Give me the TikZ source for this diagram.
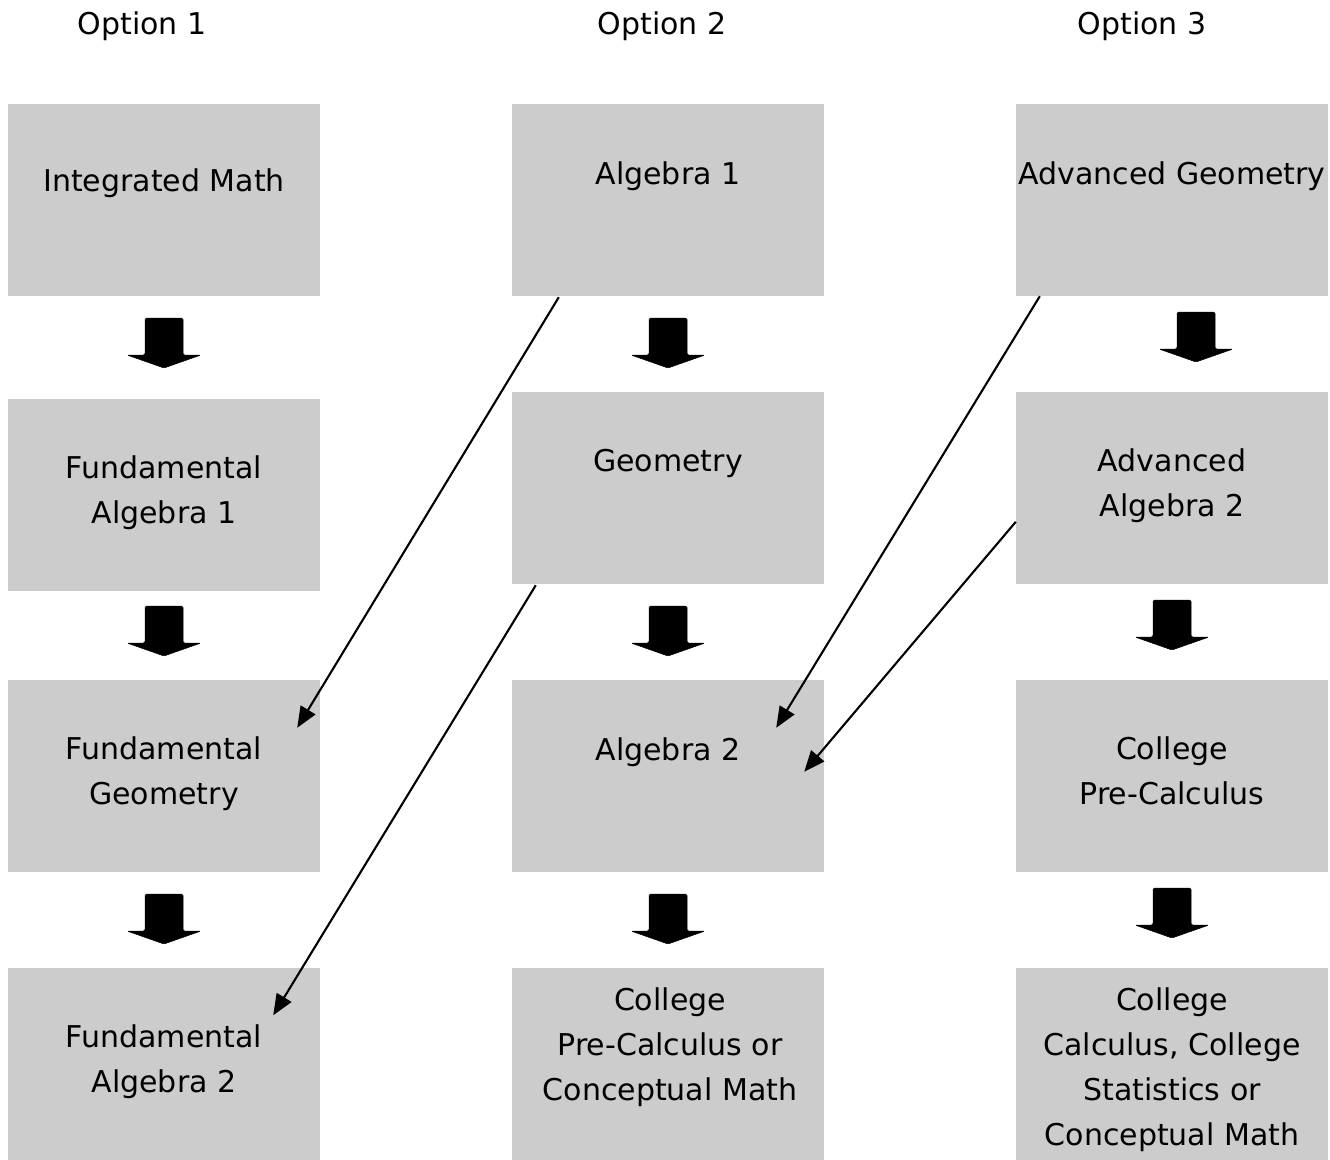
\documentclass[tikz,border=0pt]{standalone}
\usepackage{fontspec}
\setmainfont{DejaVu Sans}
\usetikzlibrary{calc,arrows.meta}
\tikzset{
  box/.style={rectangle, fill=black!20, draw=none, minimum width=312pt, minimum height=192pt, inner sep=0pt},
  lbl/.style={anchor=north, align=center, inner sep=0pt, font=\fontsize{30}{45}\selectfont},
  thin/.style={line width=2.1pt, -{Triangle[length=21pt,width=17pt]}},
  blk/.style={fill=black, draw=black, line width=0.5pt, rounded corners=1.5pt}
}
\newcommand{\barrow}[2]{%
  \draw[blk] (#1-19,#2) -- (#1+19,#2) -- (#1+19,#2+37) -- (#1+37,#2+37) -- (#1,#2+50) -- (#1-37,#2+37) -- (#1-19,#2+37) -- cycle;}
\begin{document}
\begin{tikzpicture}[x=1pt,y=-1pt]
\useasboundingbox (0,0) rectangle (1330,1159);
% headers
\node[lbl] (o1) at (142,12) {Option 1};
\node[lbl] (o2) at (662,12) {Option 2};
\node[lbl] (o3) at (1142,12) {Option 3};
% boxes
\node[box] (b11) at (164,200) {};
\node[box] (b12) at (164,494.5) {};
\node[box] (b13) at (164,776) {};
\node[box] (b14) at (164,1063.5) {};
\node[box] (b21) at (668,200) {};
\node[box] (b22) at (668,488) {};
\node[box] (b23) at (668,776) {};
\node[box] (b24) at (668,1063.5) {};
\node[box] (b31) at (1172,200) {};
\node[box] (b32) at (1172,488) {};
\node[box] (b33) at (1172,776) {};
\node[box] (b34) at (1172,1063.5) {};
% labels
\node[lbl] (t11) at (164,169) {Integrated Math};
\node[lbl] (t12) at (164,455) {Fundamental\\Algebra 1};
\node[lbl] (t13) at (164,736) {Fundamental\\Geometry};
\node[lbl] (t14) at (164,1024) {Fundamental\\Algebra 2};
\node[lbl] (t21) at (668,162) {Algebra 1};
\node[lbl] (t22) at (668,449) {Geometry};
\node[lbl] (t23) at (668,737) {Algebra 2};
\node[lbl] (t24) at (670,987) {College\\Pre-Calculus or\\Conceptual Math};
\node[lbl] (t31) at (1172,162) {Advanced Geometry};
\node[lbl] (t32) at (1172,448) {Advanced\\Algebra 2};
\node[lbl] (t33) at (1172,736) {College\\Pre-Calculus};
\node[lbl] (t34) at (1172,987) {College\\Calculus, College\\Statistics or\\Conceptual Math};
% block arrows
\barrow{164}{318}\barrow{164}{606}\barrow{164}{894}
\barrow{668}{318}\barrow{668}{606}\barrow{668}{894}
\barrow{1196}{312}\barrow{1172}{600}\barrow{1172}{888}
% thin arrows
\draw[thin] ($(b21.south west)+(47,1)$) -- ($(b13.north east)+(-23,48)$);
\draw[thin] ($(b22.south west)+(24,1)$) -- ($(b14.north east)+(-47,48)$);
\draw[thin] ($(b31.south west)+(24,0)$) -- ($(b23.north east)+(-48,48)$);
\draw[thin] ($(b32.north west)+(0,130)$) -- ($(b23.north east)+(-20,92)$);
\end{tikzpicture}
\end{document}
